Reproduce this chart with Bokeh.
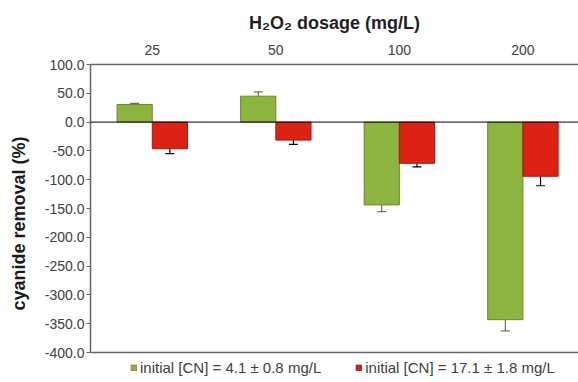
from bokeh.plotting import figure
from bokeh.models import (ColumnDataSource, FixedTicker, Whisker, TeeHead,
                          Span, Legend, LegendItem, Range1d, NumeralTickFormatter)
from bokeh.embed import file_html
from bokeh.resources import INLINE

# ---- data ----
dosages = ["25", "50", "100", "200"]
low_cn = [30.6, 45.0, -143.7, -342.9]          # initial [CN] = 4.1 mg/L
low_cn_err = [2.0, 7.5, 11.8, 19.6]
high_cn = [-46.2, -31.2, -71.5, -94.0]         # initial [CN] = 17.1 mg/L
high_cn_err = [8.5, 7.5, 6.3, 16.5]
y_ticks = [100, 50, 0, -50, -100, -150, -200, -250, -300, -350, -400]
series_labels = ["initial [CN] = 4.1 \u00b1 0.8 mg/L", "initial [CN] = 17.1 \u00b1 1.8 mg/L"]

pos = [i + 0.5 for i in range(len(dosages))]
bw = 0.285
green_x = [c - bw / 2 for c in pos]
red_x = [c + bw / 2 for c in pos]

src_g = ColumnDataSource(dict(x=green_x, top=low_cn,
                              lo=[v - e for v, e in zip(low_cn, low_cn_err)],
                              hi=[v + e for v, e in zip(low_cn, low_cn_err)]))
src_r = ColumnDataSource(dict(x=red_x, top=high_cn,
                              lo=[v - e for v, e in zip(high_cn, high_cn_err)],
                              hi=[v + e for v, e in zip(high_cn, high_cn_err)]))

FONT = "Liberation Sans"
TXT = "#404040"
AXC = "#666666"
y_min, y_max = min(y_ticks), max(y_ticks)

p = figure(width=578, height=382, x_range=Range1d(0, 3.95),
           y_range=Range1d(y_min - 52, y_max),
           output_backend="svg", toolbar_location=None, x_axis_location="above",
           min_border_left=90, min_border_right=0, min_border_top=64, min_border_bottom=0)
p.outline_line_color = None
p.grid.visible = False
p.background_fill_color = "white"
p.border_fill_color = "white"

# title
p.title.text = "H\u2082O\u2082 dosage (mg/L)"
p.title.text_font = FONT
p.title.text_font_size = "18px"
p.title.text_font_style = "bold"
p.title.text_color = "#1f1f1f"
p.title.align = "center"
p.title.standoff = 17

# top axis (categories)
ax = p.xaxis[0]
ax.ticker = FixedTicker(ticks=pos)
ax.major_label_overrides = {c: d for c, d in zip(pos, dosages)}
ax.major_tick_in = 0
ax.major_tick_out = 0
ax.minor_tick_line_color = None
ax.major_label_standoff = 10
ax.major_label_text_font = FONT
ax.major_label_text_font_size = "14px"
ax.major_label_text_color = TXT
ax.axis_line_color = AXC
ax.axis_line_width = 1.5

# left axis
yx = p.yaxis[0]
yx.bounds = (y_min, y_max)
yx.ticker = FixedTicker(ticks=y_ticks)
yx.formatter = NumeralTickFormatter(format="0.0")
yx.major_tick_in = 0
yx.major_tick_out = 4
yx.major_tick_line_color = AXC
yx.minor_tick_line_color = None
yx.major_label_standoff = 2
yx.major_label_text_font = FONT
yx.major_label_text_font_size = "14px"
yx.major_label_text_color = TXT
yx.axis_line_color = AXC
yx.axis_line_width = 1.5
yx.axis_label = "cyanide removal (%)"
yx.axis_label_text_font = FONT
yx.axis_label_text_font_size = "18px"
yx.axis_label_text_font_style = "bold"
yx.axis_label_text_color = "#1a1a1a"
yx.axis_label_standoff = 13

# bottom frame line at the axis minimum
p.add_layout(Span(location=y_min, dimension="width", line_color=AXC, line_width=1.5))

# bars
rg = p.vbar(x="x", top="top", bottom=0, width=bw, source=src_g,
            fill_color="#8db43e", line_color="#6a8a2c", line_width=1)
rr = p.vbar(x="x", top="top", bottom=0, width=bw, source=src_r,
            fill_color="#dc2212", line_color="#a8180c", line_width=1)

# zero line
p.add_layout(Span(location=0, dimension="width", line_color="black", line_width=1))

# error bars
p.add_layout(Whisker(source=src_g, base="x", lower="lo", upper="hi",
                     line_color="#4d5a2e", line_width=1,
                     upper_head=TeeHead(size=9, line_color="#4d5a2e", line_width=1),
                     lower_head=TeeHead(size=9, line_color="#4d5a2e", line_width=1)))
p.add_layout(Whisker(source=src_r, base="x", lower="lo", upper="hi",
                     line_color="black", line_width=1.2,
                     upper_head=TeeHead(size=9, line_color="black", line_width=1.2),
                     lower_head=TeeHead(size=9, line_color="black", line_width=1.2)))

# legend at the bottom of the frame, under the axis box
legend = Legend(items=[LegendItem(label=series_labels[0], renderers=[rg]),
                       LegendItem(label=series_labels[1], renderers=[rr])],
                orientation="horizontal", location=(40, 6),
                label_text_font=FONT, label_text_font_size="15px", label_text_color=TXT,
                glyph_width=7, glyph_height=7, label_standoff=3, spacing=34,
                label_height=16, padding=0, margin=0,
                border_line_color=None, background_fill_alpha=0)
p.add_layout(legend)

open("out.html", "w").write(file_html(p, INLINE))
